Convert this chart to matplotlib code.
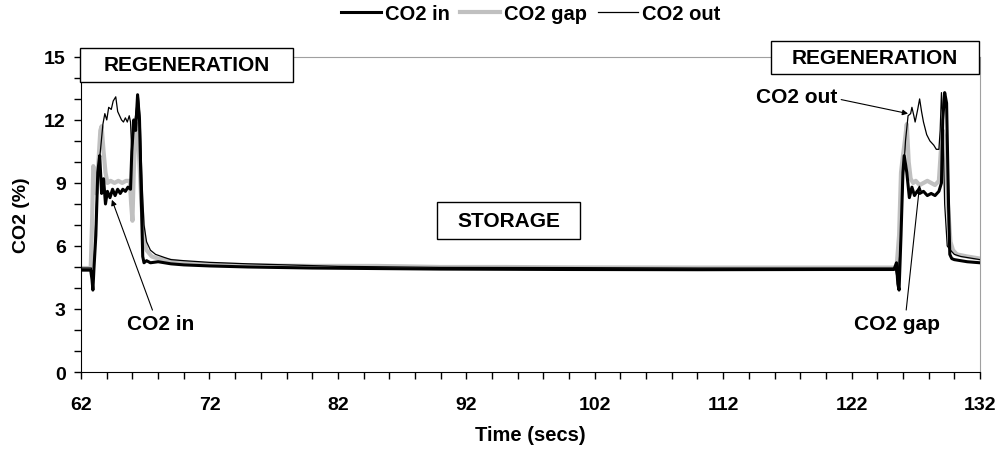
import matplotlib.pyplot as plt
from matplotlib.patches import Rectangle
from matplotlib.ticker import MultipleLocator

plt.rcParams['font.family'] = ['Liberation Sans', 'DejaVu Sans']
plt.rcParams['font.weight'] = 'bold'

# CO2 in (thick black trace)
t_in = [62.0, 62.75, 62.85, 62.92, 63.0, 63.15, 63.3, 63.45, 63.6, 63.75, 63.9, 64.05,
        64.25, 64.45, 64.65, 64.85, 65.05, 65.25, 65.45, 65.65, 65.85, 65.95, 66.1, 66.25,
        66.4, 66.55, 66.7, 66.8, 66.9, 67.1, 67.4, 68.0, 69.0, 70.0, 72.0, 75.0, 80.0,
        90.0, 100.0, 110.0, 120.0, 125.3, 125.5, 125.6, 125.7, 125.85, 126.0, 126.1,
        126.3, 126.5, 126.7, 126.9, 127.1, 127.3, 127.6, 127.9, 128.2, 128.5, 128.8,
        129.0, 129.1, 129.25, 129.4, 129.55, 129.65, 129.8, 130.0, 130.5, 131.0, 132.0]
co2_in = [4.85, 4.85, 4.4, 3.9, 4.9, 6.5, 9.5, 10.3, 8.5, 9.2, 8.0, 8.6,
          8.3, 8.7, 8.4, 8.7, 8.5, 8.7, 8.6, 8.8, 8.7, 10.5, 12.0, 11.5,
          13.2, 12.0, 8.0, 5.5, 5.2, 5.3, 5.2, 5.25, 5.15, 5.1, 5.05, 5.0, 4.95,
          4.9, 4.88, 4.87, 4.88, 4.88, 5.2, 4.2, 3.9, 6.5, 9.5, 10.3,
          9.5, 8.3, 8.8, 8.4, 8.6, 8.5, 8.6, 8.4, 8.5, 8.4, 8.6,
          9.0, 12.0, 13.3, 12.8, 8.0, 5.6, 5.4, 5.35, 5.3, 5.25, 5.2]

# CO2 gap (grey trace)
t_gap = [62.0, 62.75, 62.85, 62.95, 63.05, 63.2, 63.35, 63.5, 63.6, 63.75, 63.9, 64.05,
         64.3, 64.6, 64.9, 65.2, 65.5, 65.8, 65.9, 66.0, 66.1, 66.2, 66.35, 66.5, 66.7,
         66.9, 67.1, 67.5, 68.0, 69.0, 70.0, 72.0, 75.0, 80.0, 85.0, 90.0, 95.0, 100.0,
         110.0, 120.0, 125.5, 125.7, 125.85, 126.0, 126.15, 126.3, 126.45, 126.6, 126.8,
         127.0, 127.3, 127.6, 127.9, 128.2, 128.5, 128.8, 128.95, 129.1, 129.3, 129.5,
         129.7, 129.9, 130.2, 131.0, 132.0]
co2_gap = [4.95, 4.95, 7.0, 9.8, 9.5, 8.5, 10.0, 11.5, 11.7, 10.5, 9.5, 9.0,
           9.1, 9.0, 9.1, 9.0, 9.1, 9.1, 8.0, 7.2, 9.5, 11.0, 11.8, 10.5, 8.0,
           6.3, 5.8, 5.5, 5.4, 5.3, 5.2, 5.12, 5.08, 5.05, 5.05, 5.0, 5.0, 4.98,
           4.97, 4.97, 4.97, 6.5, 9.5, 10.3, 11.0, 11.8, 10.0, 9.2, 9.0,
           9.1, 8.9, 9.0, 9.1, 9.0, 8.9, 9.1, 10.5, 11.5, 11.0, 8.0,
           6.2, 5.8, 5.6, 5.5, 5.4]

# CO2 out (thin black trace)
t_out = [62.0, 62.8, 62.95, 63.1, 63.3, 63.5, 63.7, 63.85, 64.0, 64.15, 64.35, 64.5,
         64.7, 64.85, 65.0, 65.15, 65.3, 65.45, 65.6, 65.75, 65.85, 65.95, 66.1, 66.3,
         66.45, 66.6, 66.75, 66.9, 67.1, 67.4, 67.8, 68.5, 69.0, 70.0, 72.0, 75.0, 78.0,
         82.0, 90.0, 100.0, 110.0, 120.0, 125.4, 125.6, 125.8, 126.0, 126.2, 126.4,
         126.6, 126.7, 126.85, 126.95, 127.15, 127.3, 127.45, 127.6, 127.85, 128.1,
         128.4, 128.6, 128.8, 128.9, 129.0, 129.1, 129.25, 129.45, 129.7, 130.0, 130.5,
         131.0, 132.0]
co2_out = [4.95, 4.95, 4.3, 6.5, 9.5, 10.5, 11.8, 12.3, 12.0, 12.6, 12.5, 12.9,
           13.1, 12.4, 12.2, 12.0, 11.9, 12.1, 11.9, 12.2, 11.9, 10.5, 11.5, 12.5,
           13.2, 12.0, 9.0, 7.0, 6.2, 5.8, 5.6, 5.45, 5.35, 5.3, 5.22, 5.15, 5.1,
           5.03, 4.98, 4.97, 4.95, 4.95, 4.95, 4.3, 6.0, 9.0, 11.0, 12.2,
           12.3, 12.6, 12.2, 11.9, 12.5, 13.0, 12.4, 11.9, 11.3, 11.0,
           10.8, 10.6, 10.6, 11.5, 13.3, 12.0, 8.0, 6.0, 5.8, 5.6, 5.5,
           5.45, 5.35]

x_ticks = [62, 72, 82, 92, 102, 112, 122, 132]

fig = plt.figure(figsize=(10.01, 4.56), dpi=100)
ax = fig.add_axes([0.081, 0.182, 0.898, 0.691])

ax.plot(t_gap, co2_gap, color='#c0c0c0', lw=3.0, label='CO2 gap', zorder=2)
ax.plot(t_in, co2_in, color='black', lw=2.2, label='CO2 in', zorder=3)
ax.plot(t_out, co2_out, color='black', lw=0.9, label='CO2 out', zorder=4)

ax.set_xlim(62, 132)
ax.set_ylim(0, 15)
ax.set_xticks(x_ticks)
ax.xaxis.set_minor_locator(MultipleLocator(2))
ax.yaxis.set_major_locator(MultipleLocator(3))
ax.yaxis.set_minor_locator(MultipleLocator(1))
ax.tick_params(which='both', direction='out', length=5, width=1, labelsize=14,
               top=False, right=False)
ax.tick_params(axis='x', pad=12)
ax.tick_params(axis='y', pad=6)
for lab in ax.get_xticklabels() + ax.get_yticklabels():
    lab.set_fontweight('bold')

ax.spines['top'].set_color('#a0a0a0')
ax.spines['right'].set_color('#a0a0a0')
ax.spines['top'].set_linewidth(0.8)
ax.spines['right'].set_linewidth(0.8)

ax.set_xlabel('Time (secs)', fontsize=14.5, fontweight='bold', labelpad=9)
ax.set_ylabel('CO2 (%)', fontsize=14, fontweight='bold', labelpad=10)

# phase boxes
boxes = [((61.92, 13.81), 16.58, 1.62, 'REGENERATION'),
         ((115.74, 14.19), 16.2, 1.57, 'REGENERATION'),
         ((89.73, 6.33), 11.14, 1.77, 'STORAGE')]
for (x0, y0), w, h, txt in boxes:
    ax.add_patch(Rectangle((x0, y0), w, h, facecolor='white', edgecolor='black',
                           lw=1, clip_on=False, zorder=6))
    ax.text(x0 + w / 2, y0 + h / 2, txt, ha='center', va='center', fontsize=15,
            fontweight='bold', zorder=7, clip_on=False)

arrow = dict(arrowstyle='-|>', color='black', lw=0.8, mutation_scale=8,
             shrinkA=1, shrinkB=0)
ax.annotate('CO2 in', xy=(64.4, 8.2), xytext=(68.2, 2.3), ha='center', va='center',
            fontsize=15, fontweight='bold',
            arrowprops=dict(arrow, relpos=(0.4, 1.0)))
ax.annotate('CO2 gap', xy=(127.3, 8.9), xytext=(125.55, 2.3), ha='center', va='center',
            fontsize=15, fontweight='bold',
            arrowprops=dict(arrow, relpos=(0.6, 1.0)))
ax.annotate('CO2 out', xy=(126.4, 12.3), xytext=(117.7, 13.1), ha='center', va='center',
            fontsize=15, fontweight='bold',
            arrowprops=dict(arrow, relpos=(1.0, 0.4)))

handles, labels = ax.get_legend_handles_labels()
order = [1, 0, 2]
leg = ax.legend([handles[i] for i in order], [labels[i] for i in order],
                loc='center', bbox_to_anchor=(0.5, 1.137), ncol=3, frameon=False,
                fontsize=14.5, handlelength=2.0, handletextpad=0.2, columnspacing=0.5,
                borderaxespad=0, borderpad=0)
for t in leg.get_texts():
    t.set_fontweight('bold')

fig.savefig('out.png', dpi=100)
